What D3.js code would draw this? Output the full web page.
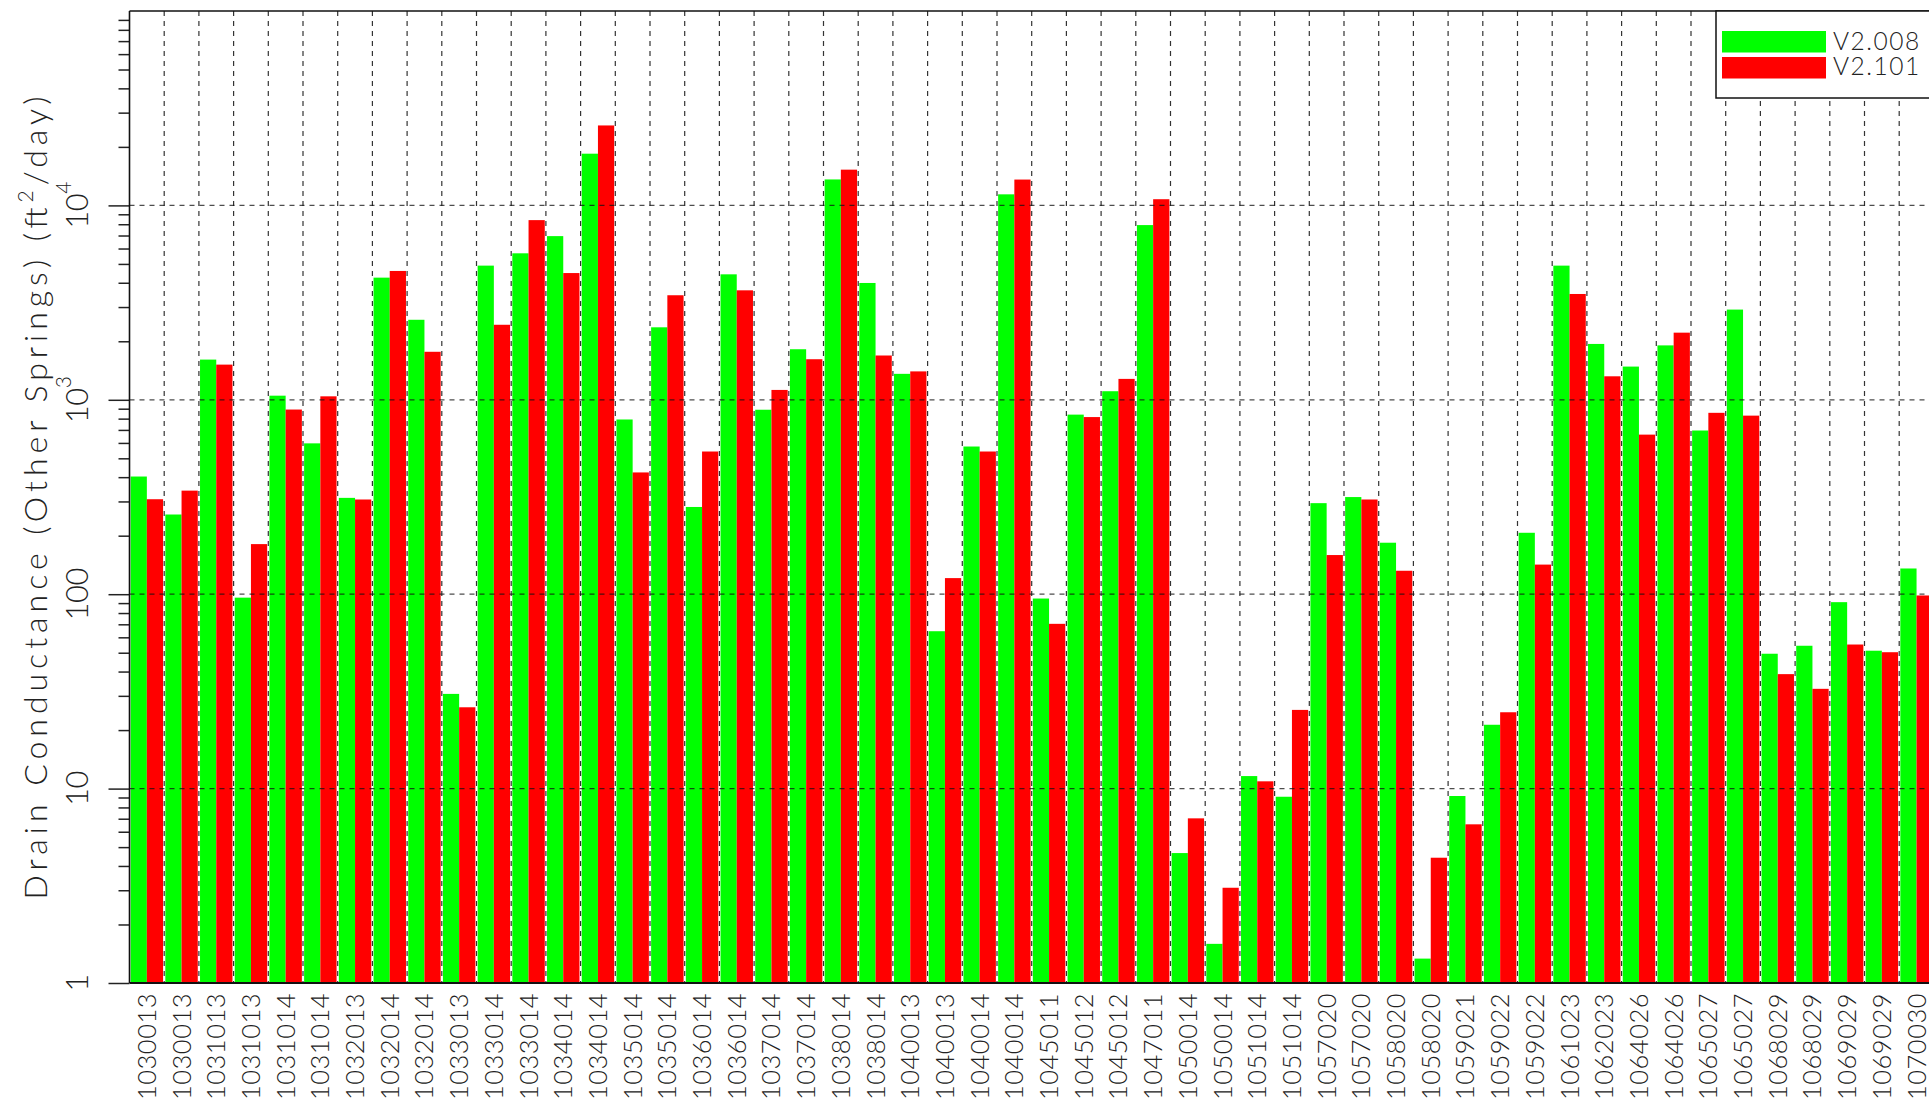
<!DOCTYPE html>
<html><head><meta charset="utf-8">
<script src="https://cdn.jsdelivr.net/npm/d3@7"></script>
<style>
body{margin:0;background:#fff;}
svg{display:block;}
text{font-family:Lato,"DejaVu Sans",sans-serif;font-weight:300;fill:#222;}
</style>
</head><body>
<svg id="chart" width="1929" height="1105"></svg>
<script>
const categories = ["1030013","1030013","1031013","1031013","1031014","1031014","1032013","1032014","1032014","1033013",
"1033014","1033014","1034014","1034014","1035014","1035014","1036014","1036014","1037014","1037014",
"1038014","1038014","1040013","1040013","1040014","1040014","1045011","1045012","1045012","1047011",
"1050014","1050014","1051014","1051014","1057020","1057020","1058020","1058020","1059021","1059022",
"1059022","1061023","1062023","1064026","1064026","1065027","1065027","1068029","1068029","1069029",
"1069029","1070030"];
const seriesNames = ["V2.008","V2.101"];
const seriesColors = ["#00ff00","#ff0000"];
const v2008 = [403,257,1610,96,1050,597,313,4250,2580,30.7,
4900,5670,6950,18450,792,2360,281,4420,889,1820,
13600,3990,1360,64.5,575,11400,95,839,1107,7920,
4.66,1.59,11.6,9.08,294,316,184,1.335,9.16,21.3,
207,4900,1938,1482,1905,695,2911,49.4,54.3,91,
51.2,135.6];
const v2101 = [308,341,1517,181,891,1042,307,4600,1766,26.2,
2432,8400,4487,25780,423,3450,542,3657,1124,1617,
15270,1690,1400,121,542,13580,70.4,815,1281,10760,
7.03,3.09,10.9,25.4,159,307,132,4.41,6.55,24.7,
142,3502,1321,662,2215,857,829,38.8,32.6,55.1,
50.3,98.5];
const yMajorTicks = [1,10,100,1000,10000];
const yTickBase = ["1","10","100","10","10"];
const yTickSup = ["","","","3","4"];
const yTitle = ["Drain  Conductance  (Other  Springs)  (ft","2","/day)"];

(function(){
const svg = d3.select("#chart");
const pLeft = 129.5, pTop = 11, pBottom = 983, step = 34.7;
const n = categories.length;
const x = d3.scaleBand().domain(d3.range(n)).range([pLeft, pLeft + step * n])
  .paddingInner(0.065).paddingOuter(0.0325);
const xs = d3.scaleBand().domain([0,1]).range([0, x.bandwidth()]);
const y = d3.scaleLog().domain([1, 1e5]).range([pBottom, pTop]);
const series = [v2008, v2101];

// vertical grid (category boundaries)
const bounds = d3.range(1, n + 1).map(i => x(i - 1) + x.bandwidth() + x.paddingInner() * x.step() / 2);
svg.append("g").selectAll("line").data(bounds).join("line")
  .attr("x1", d => d).attr("x2", d => d).attr("y1", pTop).attr("y2", pBottom)
  .attr("stroke", "#333").attr("stroke-width", 1.2).attr("stroke-dasharray", "5,5");

// bars
series.forEach((vals, s) => {
  svg.append("g").selectAll("rect").data(vals).join("rect")
    .attr("x", (d, i) => x(i) + xs(s))
    .attr("width", xs.bandwidth())
    .attr("y", d => y(d))
    .attr("height", d => y(1) - y(d))
    .attr("fill", seriesColors[s]);
});

// horizontal grid
svg.append("g").selectAll("line").data(yMajorTicks.slice(1)).join("line")
  .attr("x1", pLeft).attr("x2", 1929).attr("y1", d => y(d)).attr("y2", d => y(d))
  .attr("stroke", "#111").attr("stroke-opacity", 0.75).attr("stroke-width", 1.3).attr("stroke-dasharray", "5,5");

// minor ticks
const minor = [];
for (let d = 0; d < 5; d++) for (let m = 2; m <= 9; m++) minor.push(m * Math.pow(10, d));
const minorAxis = svg.append("g").attr("transform", `translate(${pLeft},0)`)
  .call(d3.axisLeft(y).tickValues(minor).tickSize(11).tickFormat(""));
const majorAxis = svg.append("g").attr("transform", `translate(${pLeft},0)`)
  .call(d3.axisLeft(y).tickValues(yMajorTicks).tickSize(21).tickFormat(""));
[minorAxis, majorAxis].forEach(a => {
  a.select(".domain").remove();
  a.selectAll("line").attr("stroke", "#222").attr("stroke-width", 1.5);
});

// frame
svg.append("line").attr("x1", pLeft).attr("x2", pLeft).attr("y1", pTop).attr("y2", pBottom)
  .attr("stroke", "#111").attr("stroke-width", 1.6);
svg.append("line").attr("x1", pLeft).attr("x2", 1929).attr("y1", pBottom).attr("y2", pBottom)
  .attr("stroke", "#111").attr("stroke-width", 1.8);
svg.append("line").attr("x1", pLeft).attr("x2", 1929).attr("y1", pTop).attr("y2", pTop)
  .attr("stroke", "#111").attr("stroke-width", 1.4);

// y tick labels
yMajorTicks.forEach((v, i) => {
  const t = svg.append("text")
    .attr("transform", `translate(87.5,${y(v)}) rotate(-90)`)
    .attr("text-anchor", "middle")
    .style("font-size", "31px").style("letter-spacing", "-0.5px");
  t.append("tspan").text(yTickBase[i]);
  if (yTickSup[i]) t.append("tspan").attr("dy", -17).style("font-size", "21px").text(yTickSup[i]);
});

// x labels
svg.append("g").selectAll("text").data(categories).join("text")
  .attr("transform", (d, i) => `translate(${x(i) + x.bandwidth() / 2 + 9},993) rotate(-90)`)
  .attr("text-anchor", "end")
  .style("font-size", "25.5px").style("letter-spacing", "0.5px")
  .text(d => d);

// y title
const yt = svg.append("text")
  .attr("transform", `translate(47,498) rotate(-90)`)
  .attr("text-anchor", "middle")
  .style("font-size", "32px")
  .attr("textLength", 803).attr("lengthAdjust", "spacing");
yt.append("tspan").text(yTitle[0]);
yt.append("tspan").attr("dy", -14).style("font-size", "21px").text(yTitle[1]);
yt.append("tspan").attr("dy", 14).text(yTitle[2]);

// legend
const lg = svg.append("g");
lg.append("rect").attr("x", 1716).attr("y", pTop).attr("width", 260).attr("height", 87)
  .attr("fill", "#fff").attr("stroke", "#111").attr("stroke-width", 1.5);
seriesNames.forEach((nm, i) => {
  lg.append("rect").attr("x", 1722).attr("y", 31 + i * 26).attr("width", 104).attr("height", 21.5)
    .attr("fill", seriesColors[i]);
  lg.append("text").attr("x", 1833).attr("y", 49.5 + i * 25.7)
    .style("font-size", "24.5px").style("letter-spacing", "1.5px").text(nm);
});
})();
</script>
</body></html>
